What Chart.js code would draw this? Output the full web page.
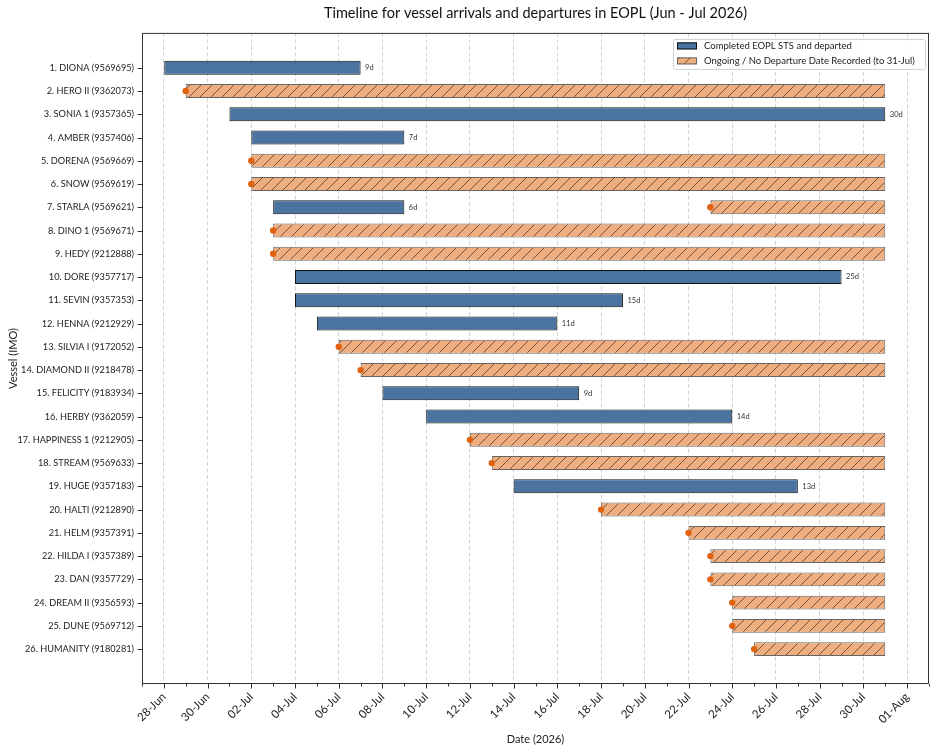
<!DOCTYPE html>
<html>
<head>
<meta charset="utf-8">
<script src="https://cdn.jsdelivr.net/npm/chart.js@4.4.1/dist/chart.umd.min.js"></script>
<style>
  html, body { margin: 0; background: #fff; }
</style>
</head>
<body>
<canvas id="timeline" width="936" height="756"></canvas>
<script>
// ================= DATA =================
const vessels = [
  "1. DIONA (9569695)", "2. HERO II (9362073)", "3. SONIA 1 (9357365)", "4. AMBER (9357406)",
  "5. DORENA (9569669)", "6. SNOW (9569619)", "7. STARLA (9569621)", "8. DINO 1 (9569671)",
  "9. HEDY (9212888)", "10. DORE (9357717)", "11. SEVIN (9357353)", "12. HENNA (9212929)",
  "13. SILVIA I (9172052)", "14. DIAMOND II (9218478)", "15. FELICITY (9183934)", "16. HERBY (9362059)",
  "17. HAPPINESS 1 (9212905)", "18. STREAM (9569633)", "19. HUGE (9357183)", "20. HALTI (9212890)",
  "21. HELM (9357391)", "22. HILDA I (9357389)", "23. DAN (9357729)", "24. DREAM II (9356593)",
  "25. DUNE (9569712)", "26. HUMANITY (9180281)"
];

// completed visits (arrival / departure), month-day of 2026
const arrivalDone = [
  "06-28", null, "07-01", "07-02", null, null, "07-03", null, null, "07-04", "07-04", "07-05", null,
  null, "07-08", "07-10", null, null, "07-14", null, null, null, null, null, null, null
];
const departed = [
  "07-07", null, "07-31", "07-09", null, null, "07-09", null, null, "07-29", "07-19", "07-16", null,
  null, "07-17", "07-24", null, null, "07-27", null, null, null, null, null, null, null
];

// ongoing visits (arrival only, drawn to 31-Jul)
const arrivalOpen = [
  null, "06-29", null, null, "07-02", "07-02", "07-23", "07-03", "07-03", null, null, null, "07-06",
  "07-07", null, null, "07-12", "07-13", null, "07-18", "07-22", "07-23", "07-23", "07-24", "07-24", "07-25"
];
const openUntil = "07-31";

const axisStart = "06-27";
const axisEnd = "08-02";
const legendTexts = ["Completed EOPL STS and departed", "Ongoing / No Departure Date Recorded (to 31-Jul)"];

// ================= HELPERS =================
const MONTHS = ["Jan","Feb","Mar","Apr","May","Jun","Jul","Aug","Sep","Oct","Nov","Dec"];
const DAY = 86400000;
const base = Date.UTC(2026, 5, 28);

function dayNum(md) {
  const [m, d] = md.split("-").map(Number);
  return Math.round((Date.UTC(2026, m - 1, d) - base) / DAY);
}
function dayLabel(n) {
  const dt = new Date(base + n * DAY);
  return String(dt.getUTCDate()).padStart(2, "0") + "-" + MONTHS[dt.getUTCMonth()];
}

const FONT = "Lato, 'DejaVu Sans', sans-serif";
const BLUE = "#4a73a0";
const ORANGE = "#eeae7f";
const DOT = "#e0620e";

function hatchPattern() {
  const s = 11;
  const c = document.createElement("canvas");
  c.width = s; c.height = s;
  const g = c.getContext("2d");
  g.fillStyle = ORANGE;
  g.fillRect(0, 0, s, s);
  g.strokeStyle = "rgba(70,45,30,0.8)";
  g.lineWidth = 0.9;
  g.beginPath();
  g.moveTo(-1, s + 1); g.lineTo(s + 1, -1);
  g.moveTo(-s / 2 - 1, s / 2 + 1); g.lineTo(s / 2 + 1, -s / 2 - 1);
  g.moveTo(s / 2 - 1, s * 1.5 + 1); g.lineTo(s * 1.5 + 1, s / 2 - 1);
  g.stroke();
  return g.createPattern(c, "repeat");
}
const hatch = hatchPattern();

// padded rows so there is 1.5 rows of empty space above and below
const rows = [""].concat(vessels, [""]);

const doneBars = [null].concat(vessels.map((v, i) =>
  arrivalDone[i] ? [dayNum(arrivalDone[i]), dayNum(departed[i])] : null), [null]);
const openBars = [null].concat(vessels.map((v, i) =>
  arrivalOpen[i] ? [dayNum(arrivalOpen[i]), dayNum(openUntil)] : null), [null]);
const arrivalDots = [];
vessels.forEach((v, i) => {
  if (arrivalOpen[i]) arrivalDots.push({ x: dayNum(arrivalOpen[i]), y: v });
});

// ================= PLUGINS =================
const durationLabels = {
  id: "durationLabels",
  afterDatasetsDraw(chart) {
    const meta = chart.getDatasetMeta(1);
    const ctx = chart.ctx;
    ctx.save();
    ctx.font = "7.5px " + FONT;
    ctx.fillStyle = "#333";
    ctx.textAlign = "left";
    ctx.textBaseline = "middle";
    meta.data.forEach((bar, i) => {
      const v = doneBars[i];
      if (!v) return;
      ctx.fillText((v[1] - v[0]) + "d", bar.x + 4.5, bar.y);
    });
    ctx.restore();
  }
};

const frameAndLegend = {
  id: "frameAndLegend",
  afterDraw(chart) {
    const { ctx, chartArea: a } = chart;
    const xs = chart.scales.x, ys = chart.scales.y;
    ctx.save();
    ctx.strokeStyle = "#333";
    ctx.lineWidth = 1;
    ctx.strokeRect(a.left + 0.5, a.top + 0.5, a.right - a.left - 1, a.bottom - a.top - 1);

    // tick marks: major (every 2 days) and minor (every day) on x, one per vessel on y
    ctx.beginPath();
    xs.ticks.forEach(t => {
      const px = Math.round(xs.getPixelForValue(t.value)) + 0.5;
      const len = t.value % 2 === 0 ? 4.5 : 2.5;
      ctx.moveTo(px, a.bottom);
      ctx.lineTo(px, a.bottom + len);
    });
    vessels.forEach(v => {
      const py = Math.round(ys.getPixelForValue(rows.indexOf(v))) + 0.5;
      ctx.moveTo(a.left, py);
      ctx.lineTo(a.left - 4.5, py);
    });
    ctx.stroke();

    // legend box (top right)
    const bx = a.right - 256, by = a.top + 6, bw = 252, bh = 30;
    ctx.fillStyle = "rgba(255,255,255,0.85)";
    ctx.strokeStyle = "#d0d0d0";
    ctx.beginPath();
    ctx.roundRect(bx + 0.5, by + 0.5, bw, bh, 2);
    ctx.fill();
    ctx.stroke();

    const sx = bx + 4, sw = 20, sh = 7;
    const y1 = by + 7, y2 = by + 22;
    ctx.fillStyle = BLUE;
    ctx.fillRect(sx, y1 - sh / 2, sw, sh);
    ctx.strokeStyle = "#111";
    ctx.strokeRect(sx + 0.5, y1 - sh / 2 + 0.5, sw - 1, sh - 1);
    ctx.fillStyle = hatch;
    ctx.fillRect(sx, y2 - sh / 2, sw, sh);
    ctx.strokeStyle = "#666";
    ctx.strokeRect(sx + 0.5, y2 - sh / 2 + 0.5, sw - 1, sh - 1);

    ctx.fillStyle = "#222";
    ctx.font = "9.5px " + FONT;
    ctx.textBaseline = "middle";
    ctx.textAlign = "left";
    ctx.fillText(legendTexts[0], sx + sw + 7, y1);
    ctx.fillText(legendTexts[1], sx + sw + 7, y2);
    ctx.restore();
  }
};

// ================= CHART =================
Chart.defaults.font.family = FONT;
Chart.defaults.color = "#222";

new Chart(document.getElementById("timeline"), {
  type: "bar",
  data: {
    labels: rows,
    datasets: [
      {
        type: "scatter",
        data: arrivalDots,
        backgroundColor: DOT,
        borderWidth: 0,
        pointRadius: 3.2,
        order: 0
      },
      {
        label: legendTexts[0],
        data: doneBars,
        backgroundColor: BLUE,
        borderColor: "#111",
        borderWidth: 1,
        borderSkipped: false,
        grouped: false,
        barPercentage: 0.6,
        categoryPercentage: 1,
        order: 2
      },
      {
        label: legendTexts[1],
        data: openBars,
        backgroundColor: hatch,
        borderColor: "#666",
        borderWidth: 1,
        borderSkipped: false,
        grouped: false,
        barPercentage: 0.6,
        categoryPercentage: 1,
        order: 1
      }
    ]
  },
  options: {
    indexAxis: "y",
    responsive: false,
    animation: false,
    layout: { padding: { left: 0, right: 7, top: 0, bottom: 0 } },
    plugins: {
      legend: { display: false },
      tooltip: { enabled: false },
      title: {
        display: true,
        fullSize: false,
        text: "Timeline for vessel arrivals and departures in EOPL (Jun - Jul 2026)",
        color: "#111",
        font: { size: 14.5, weight: "normal" },
        padding: { top: 5, bottom: 10.5 }
      }
    },
    scales: {
      x: {
        type: "linear",
        min: dayNum(axisStart),
        max: dayNum(axisEnd),
        afterFit(scale) {
          scale.height = 72;
          scale.paddingLeft = 0;
          scale.paddingRight = 0;
        },
        border: { display: false, dash: [4, 2.5] },
        grid: {
          color: c => (c.tick && c.tick.value % 2 === 0) ? "#c8c8c8" : "rgba(0,0,0,0)",
          lineWidth: 0.8,
          drawTicks: false
        },
        ticks: {
          stepSize: 1,
          autoSkip: false,
          minRotation: 45,
          maxRotation: 45,
          padding: 6,
          font: { size: 11.5 },
          callback: v => (v % 2 === 0) ? dayLabel(v) : ""
        },
        title: {
          display: true,
          text: "Date (2026)",
          font: { size: 11 },
          padding: { top: 0, bottom: 10 }
        }
      },
      y: {
        type: "category",
        afterFit(scale) { scale.width = 142; },
        border: { display: false },
        grid: {
          display: false,
          tickLength: 4
        },
        ticks: {
          autoSkip: false,
          padding: 4,
          font: { size: 9.2 }
        },
        title: {
          display: true,
          text: "Vessel (IMO)",
          font: { size: 11 },
          padding: { top: 7, bottom: 0 }
        }
      }
    }
  },
  plugins: [durationLabels, frameAndLegend]
});
</script>
</body>
</html>
